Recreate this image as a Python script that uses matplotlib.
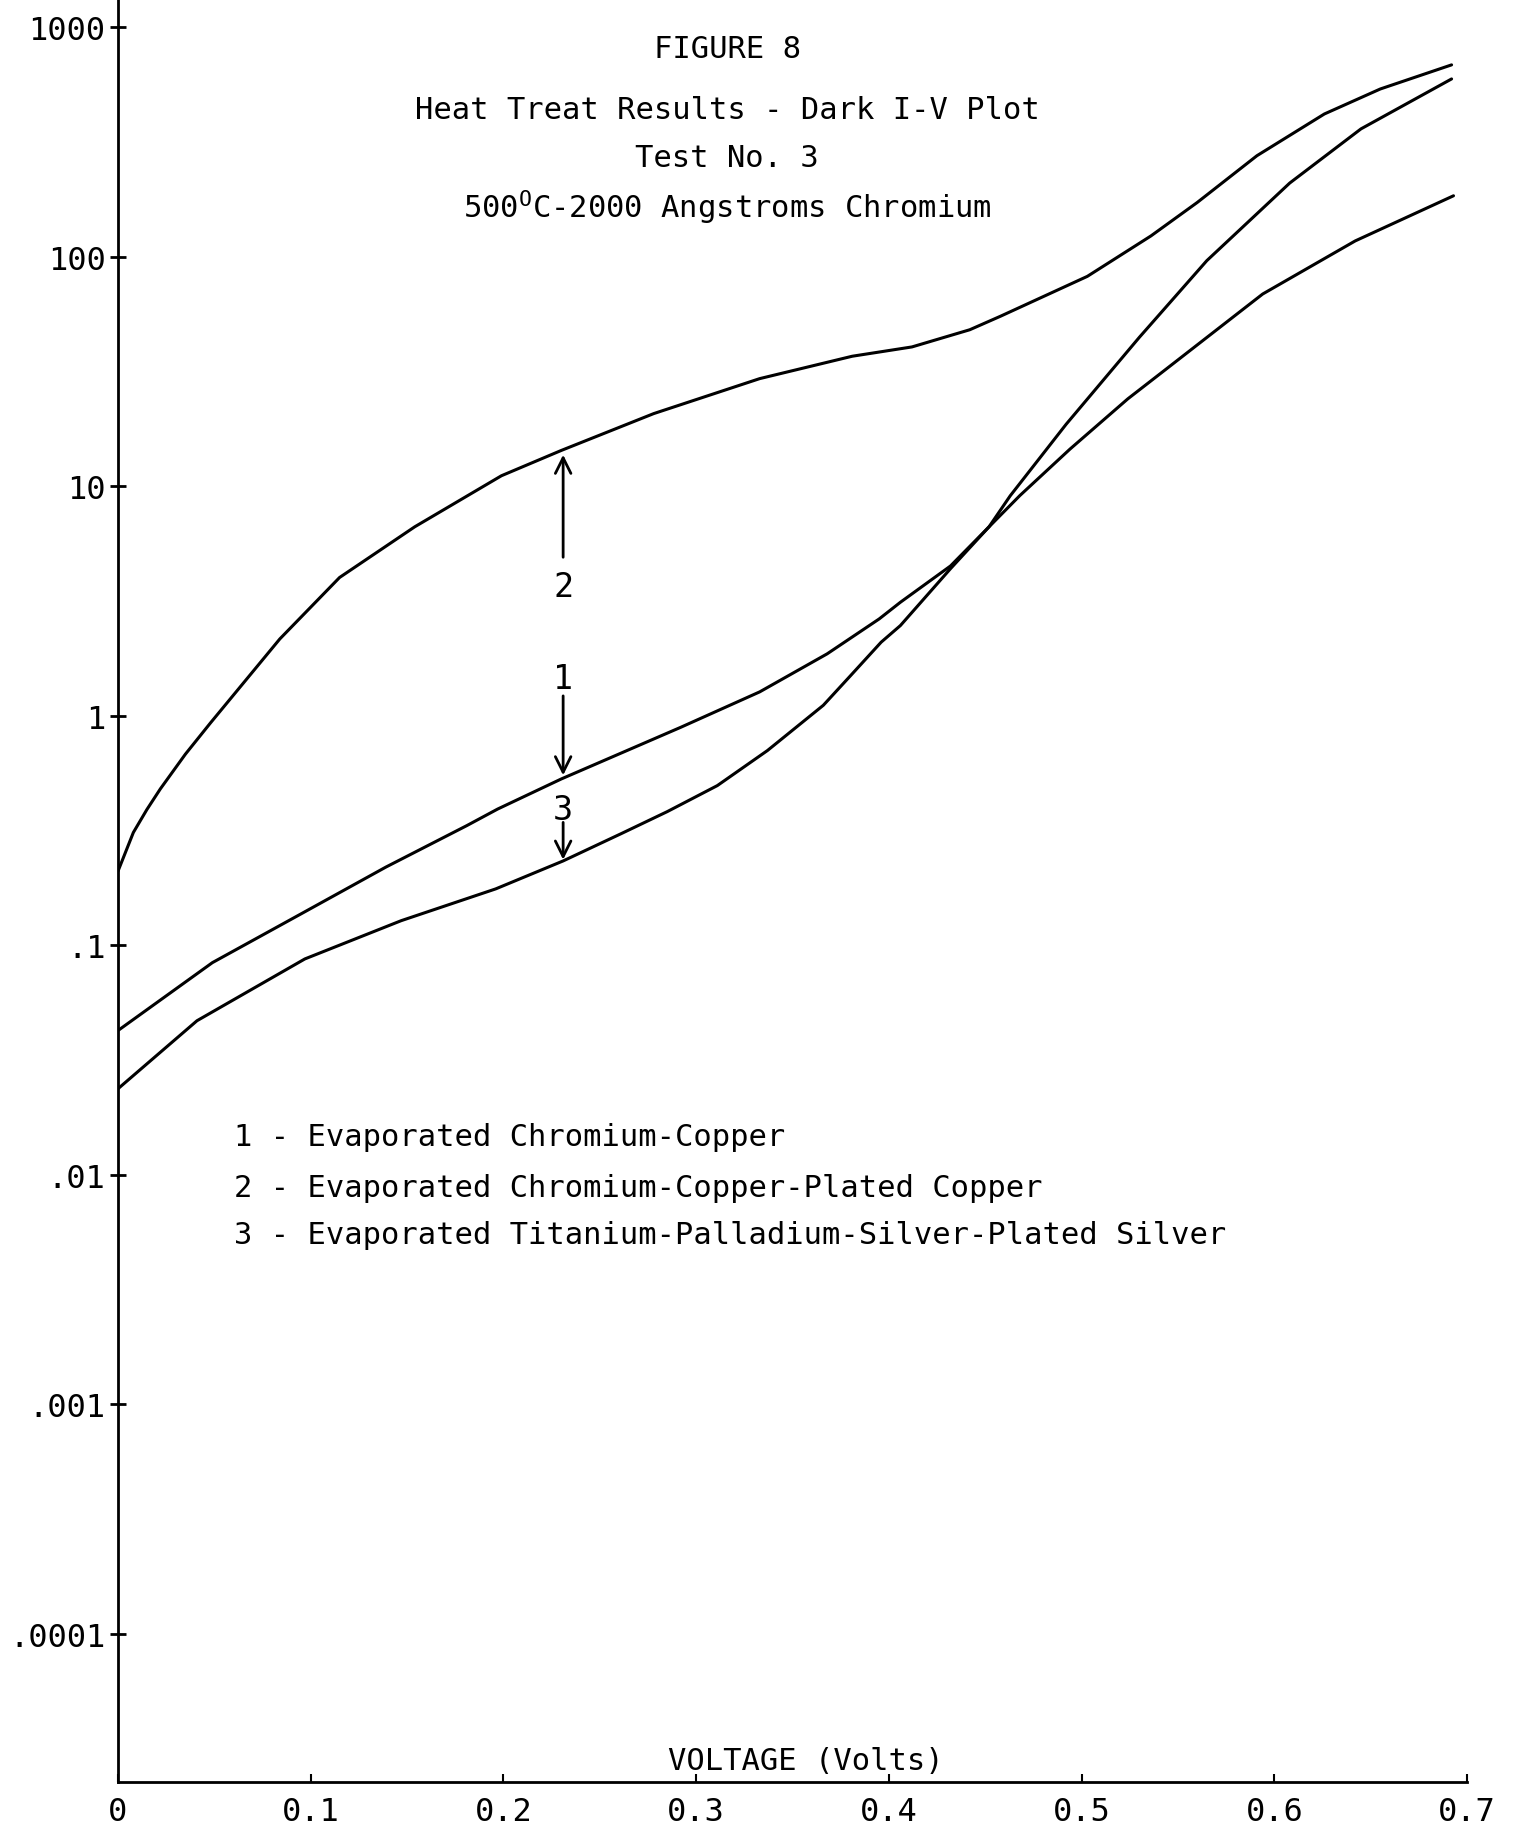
import matplotlib
matplotlib.use("Agg")
import matplotlib.pyplot as plt
from matplotlib import font_manager

# data (volts, amps)
volts_1 = [0.0, 0.049, 0.095, 0.139, 0.181, 0.197, 0.230, 0.292, 0.333, 0.368,
           0.395, 0.406, 0.432, 0.452, 0.468, 0.494, 0.524, 0.544, 0.594, 0.642, 0.693]
amps_1 = [0.0425, 0.084, 0.137, 0.219, 0.332, 0.392, 0.53, 0.89, 1.27, 1.86,
          2.64, 3.12, 4.49, 6.65, 9.1, 14.5, 24, 32.4, 68.7, 117, 184]

volts_2 = [0.0, 0.008, 0.015, 0.022, 0.035, 0.048, 0.084, 0.115, 0.154, 0.199, 0.230,
           0.278, 0.333, 0.381, 0.412, 0.442, 0.458, 0.503, 0.536, 0.560, 0.591, 0.626,
           0.655, 0.692]
amps_2 = [0.21, 0.31, 0.39, 0.48, 0.68, 0.93, 2.16, 4.0, 6.65, 11.1, 14.3,
          20.7, 29.4, 36.8, 40.4, 48, 55, 82, 123, 172, 275, 418,
          537, 684]

volts_3 = [0.0, 0.041, 0.097, 0.147, 0.196, 0.231, 0.261, 0.285, 0.311, 0.337, 0.366,
           0.380, 0.396, 0.406, 0.432, 0.452, 0.463, 0.492, 0.530, 0.565, 0.608, 0.645,
           0.692]
amps_3 = [0.0237, 0.0469, 0.0872, 0.128, 0.176, 0.233, 0.306, 0.382, 0.496, 0.705, 1.11,
          1.49, 2.09, 2.47, 4.37, 6.65, 9.08, 18.6, 44.5, 96, 209, 360,
          594]

legend_lines = ["1 - Evaporated Chromium-Copper",
                "2 - Evaporated Chromium-Copper-Plated Copper",
                "3 - Evaporated Titanium-Palladium-Silver-Plated Silver"]

y_ticks = [1e3, 1e2, 1e1, 1, 1e-1, 1e-2, 1e-3, 1e-4]
y_labels = ["1000", "100", "10", "1", ".1", ".01", ".001", ".0001"]
x_ticks = [0, 0.1, 0.2, 0.3, 0.4, 0.5, 0.6, 0.7]
x_labels = ["0", "0.1", "0.2", "0.3", "0.4", "0.5", "0.6", "0.7"]

# arrows pointing at the curves: (label, label y, tail y, tip y)
arrow_x = 0.231
arrows = [("2", 3.66, 4.9, 13.7),
          ("1", 1.45, 1.22, 0.55),
          ("3", 0.391, 0.343, 0.236)]

MONO = "DejaVu Sans Mono"
names = {f.name for f in font_manager.fontManager.ttflist}
if "Liberation Sans Narrow" in names:
    ytick_font, ytick_size = "Liberation Sans Narrow", 27
else:
    ytick_font, ytick_size = MONO, 23

fig = plt.figure(figsize=(15.18, 18.31), dpi=100)
ax = fig.add_axes([0.0777, 0.0262, 0.8887, 0.9738])

ax.plot(volts_1, amps_1, color="black", lw=2.2, solid_capstyle="round")
ax.plot(volts_2, amps_2, color="black", lw=2.2, solid_capstyle="round")
ax.plot(volts_3, amps_3, color="black", lw=2.2, solid_capstyle="round")

ax.set_yscale("log")
ax.set_xlim(0, 0.7)
ax.set_ylim(10 ** -4.645, 10 ** 3.122)

for s in ["top", "right"]:
    ax.spines[s].set_visible(False)
ax.spines["left"].set_linewidth(2)
ax.spines["bottom"].set_linewidth(2)

ax.set_yticks(y_ticks)
ax.set_yticklabels(y_labels, family=ytick_font, fontsize=ytick_size)
ax.minorticks_off()
ax.tick_params(axis="y", direction="inout", length=12, width=2, pad=3)
ax.set_xticks(x_ticks)
ax.set_xticklabels(x_labels, family=MONO, fontsize=23)
ax.tick_params(axis="x", direction="in", length=6, width=1.5, pad=10)

for lab, ylab, ytail, ytip in arrows:
    ax.annotate("", xy=(arrow_x, ytip), xytext=(arrow_x, ytail),
                arrowprops=dict(arrowstyle="->", lw=2, color="black",
                                shrinkA=0, shrinkB=0, mutation_scale=28))
    ax.text(arrow_x, ylab, lab, family=MONO, fontsize=24, ha="center", va="center")

ax.text(0.51, 0.004, "VOLTAGE (Volts)", transform=ax.transAxes, family=MONO,
        fontsize=22, ha="center", va="bottom")

# title block
fig.text(0.479, 0.9732, "FIGURE 8", family=MONO, fontsize=22, ha="center", va="center")
fig.text(0.479, 0.9394, "Heat Treat Results - Dark I-V Plot", family=MONO, fontsize=22,
         ha="center", va="center")
fig.text(0.479, 0.9137, "Test No. 3", family=MONO, fontsize=22, ha="center", va="center")
fig.text(0.479, 0.8864, r"500$^{\mathtt{O}}$C-2000 Angstroms Chromium", family=MONO,
         fontsize=22, ha="center", va="center")

# legend as plain text lines
for txt, yy in zip(legend_lines, [0.3785, 0.3511, 0.3255]):
    fig.text(0.154, yy, txt, family=MONO, fontsize=22, ha="left", va="center")

fig.savefig("out.png", dpi=100, facecolor="white")
